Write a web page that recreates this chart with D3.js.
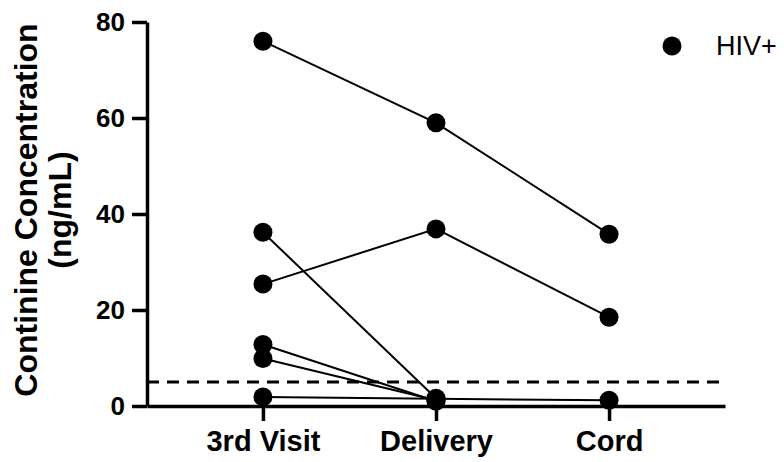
<!DOCTYPE html>
<html>
<head>
<meta charset="utf-8">
<script src="https://cdn.jsdelivr.net/npm/d3@7"></script>
<style>
  html, body { margin: 0; padding: 0; background: #fff; }
  svg { display: block; font-family: "Liberation Sans", Arial, Helvetica, sans-serif; }
</style>
</head>
<body>
<svg id="chart" width="784" height="462"></svg>
<script>
// Time points on the x axis
const categories = ["3rd Visit", "Delivery", "Cord"];

// Continine (ng/mL) per participant at each time point; null = not measured
const participant1 = [76.0, 59.0, 35.8];
const participant2 = [25.4, 36.9, 18.5];
const participant3 = [36.2, 1.6, null];
const participant4 = [12.8, 1.0, null];
const participant5 = [9.9, 1.2, null];
const participant6 = [1.9, 1.5, 1.2];
const participants = [participant1, participant2, participant3, participant4, participant5, participant6];

// Limit of quantification drawn as a dashed reference line
const thresholdValue = 5;

const yTicks = [0, 20, 40, 60, 80];
const legendLabel = "HIV+";

const svg = d3.select("#chart");

const x = d3.scalePoint()
  .domain(categories)
  .range([147, 725])
  .padding(0.67);

const y = d3.scaleLinear()
  .domain([0, 80])
  .range([406, 22]);

// Threshold line
svg.append("line")
  .attr("x1", x.range()[0]).attr("x2", x.range()[1])
  .attr("y1", y(thresholdValue)).attr("y2", y(thresholdValue))
  .attr("stroke", "#000")
  .attr("stroke-width", 3)
  .attr("stroke-dasharray", "12,8");

// Participant trajectories
const line = d3.line()
  .defined(d => d.v != null)
  .x(d => x(d.c))
  .y(d => y(d.v));

const rows = participants.map(p => p.map((v, i) => ({ c: categories[i], v })));

svg.append("g")
  .selectAll("path")
  .data(rows)
  .join("path")
  .attr("d", line)
  .attr("fill", "none")
  .attr("stroke", "#000")
  .attr("stroke-width", 2);

// Axes
const yAxis = svg.append("g")
  .attr("transform", `translate(${x.range()[0]},0)`)
  .call(d3.axisLeft(y).tickValues(yTicks).tickSize(15).tickPadding(7).tickSizeOuter(0));

const xAxis = svg.append("g")
  .attr("transform", `translate(0,${y(0)})`)
  .call(d3.axisBottom(x).tickSize(15).tickPadding(9).tickSizeOuter(0));

[yAxis, xAxis].forEach(g => {
  g.select(".domain").attr("stroke", "#000").attr("stroke-width", 3.5);
  g.selectAll(".tick line").attr("stroke", "#000").attr("stroke-width", 3.5);
  g.selectAll(".tick text")
    .attr("fill", "#000")
    .attr("font-family", "'Liberation Sans', Arial, sans-serif")
    .attr("font-weight", "bold");
});
yAxis.selectAll(".tick text").attr("font-size", 26);
xAxis.selectAll(".tick text").attr("font-size", 29);

// Data points
svg.append("g")
  .selectAll("circle")
  .data(rows.flat().filter(d => d.v != null))
  .join("circle")
  .attr("cx", d => x(d.c))
  .attr("cy", d => y(d.v))
  .attr("r", 9.5)
  .attr("fill", "#000");

// Y axis title (two lines)
const title = svg.append("text")
  .attr("transform", `translate(0,${(y(0) + y(80)) / 2 - 4}) rotate(-90)`)
  .attr("text-anchor", "middle")
  .attr("font-weight", "bold")
  .attr("font-size", 32)
  .attr("fill", "#000");
title.append("tspan").attr("x", 0).attr("y", 37).text("Continine Concentration");
title.append("tspan").attr("x", 0).attr("y", 71).text("(ng/mL)");

// Legend
const legend = svg.append("g").attr("transform", "translate(672,46)");
legend.append("circle").attr("r", 9.5).attr("fill", "#000");
legend.append("text")
  .attr("x", 44).attr("y", 0)
  .attr("dy", "0.35em")
  .attr("font-size", 27)
  .attr("fill", "#000")
  .text(legendLabel);
</script>
</body>
</html>
